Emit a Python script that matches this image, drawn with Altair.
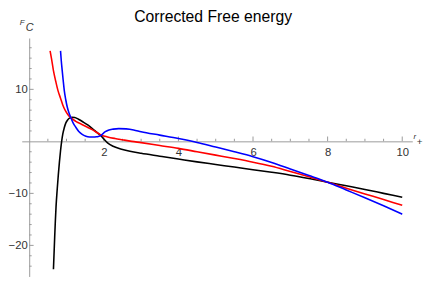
import altair as alt
import pandas as pd

# ---- data ----
black_r = [0.65, 0.68, 0.70, 0.72, 0.75, 0.78, 0.81, 0.84, 0.87, 0.90, 0.94, 0.98, 1.03, 1.09, 1.15,
           1.22, 1.32, 1.45, 1.58, 1.75, 1.85, 1.93, 2.0, 2.1, 2.25, 2.45, 2.7, 3.0, 3.5, 4.0, 4.5,
           5.0, 5.5, 6.0, 6.5, 7.0, 7.5, 8.0, 8.5, 9.0, 9.5, 10.0]
black_F = [-24.6, -19.0, -15.5, -12.5, -9.3, -6.5, -4.0, -1.8, 0.0, 1.4, 2.6, 3.5, 4.1, 4.5, 4.65,
           4.6, 4.25, 3.7, 3.1, 2.1, 1.5, 1.05, 0.45, -0.3, -0.95, -1.45, -1.9, -2.3, -2.85, -3.4, -3.95,
           -4.45, -4.95, -5.45, -5.95, -6.5, -7.15, -7.85, -8.55, -9.25, -10.0, -10.75]

red_r = [0.56, 0.6, 0.65, 0.71, 0.77, 0.84, 0.9, 0.97, 1.04, 1.12, 1.25, 1.4, 1.55, 1.7, 1.85,
         1.95, 2.1, 2.3, 2.5, 2.75, 3.0, 3.5, 4.0, 4.5, 5.0, 5.5, 6.0, 6.5, 7.0, 7.5, 8.0, 8.5,
         9.0, 9.5, 10.0]
red_F = [17.4, 15.8, 13.6, 11.6, 9.8, 8.3, 7.0, 5.9, 5.1, 4.5, 3.85, 3.3, 2.75, 2.2, 1.55,
         1.15, 0.85, 0.55, 0.3, 0.0, -0.25, -0.8, -1.35, -2.0, -2.65, -3.3, -4.0, -4.8, -5.8, -6.8,
         -7.85, -9.0, -10.1, -11.2, -12.3]

blue_r = [0.84, 0.86, 0.885, 0.91, 0.94, 0.98, 1.02, 1.07, 1.12, 1.18, 1.25, 1.33, 1.42, 1.52,
          1.62, 1.72, 1.8, 1.87, 1.93, 1.98, 2.04, 2.12, 2.25, 2.4, 2.6, 2.8, 3.0, 3.5, 4.0, 4.5,
          5.0, 5.5, 6.0, 6.5, 7.0, 7.5, 8.0, 8.5, 9.0, 9.5, 10.0]
blue_F = [17.4, 15.5, 13.6, 11.8, 9.8, 8.0, 6.6, 5.4, 4.5, 3.5, 2.7, 1.9, 1.35, 1.0,
          0.85, 0.82, 0.87, 1.0, 1.15, 1.5, 1.85, 2.15, 2.35, 2.45, 2.4, 2.2, 1.85, 1.2, 0.55, -0.2,
          -1.1, -2.0, -2.95, -4.05, -5.3, -6.55, -7.85, -9.35, -10.85, -12.4, -14.0]

x_major = [2, 4, 6, 8, 10]
x_minor = [0.5, 1, 1.5, 2.5, 3, 3.5, 4.5, 5, 5.5, 6.5, 7, 7.5, 8.5, 9, 9.5]
y_major = [-20, -10, 10]
y_minor = [-24, -22, -18, -16, -14, -12, -8, -6, -4, -2, 2, 4, 6, 8, 12, 14, 16, 18]

X_DOMAIN = [-0.2, 10.27]
Y_DOMAIN = [-25.98, 19.87]
W, H = 398, 243
y0_px = H * Y_DOMAIN[1] / (Y_DOMAIN[1] - Y_DOMAIN[0])
x0_px = W * (0 - X_DOMAIN[0]) / (X_DOMAIN[1] - X_DOMAIN[0])

AXIS_COLOR = "#9a9a9a"
LABEL_COLOR = "#333333"
FONT = "Liberation Sans"

xscale = alt.Scale(domain=X_DOMAIN, nice=False, zero=False)
yscale = alt.Scale(domain=Y_DOMAIN, nice=False, zero=False)

x_axis = alt.Axis(values=x_major, orient="bottom", offset=-(H - y0_px), ticks=False,
                  domainColor=AXIS_COLOR, domainWidth=1, labelFont=FONT, labelFontSize=11.5,
                  labelColor=LABEL_COLOR, labelPadding=5, title=None, grid=False,
                  labelFlush=False, labelOverlap=False)
y_axis = alt.Axis(values=y_major, orient="left", offset=-x0_px, ticks=False,
                  domainColor=AXIS_COLOR, domainWidth=1, labelFont=FONT, labelFontSize=11.5,
                  labelColor=LABEL_COLOR, labelPadding=2, title=None, grid=False,
                  labelFlush=False, labelOverlap=False)


def line_layer(rs, fs, color):
    df = pd.DataFrame({"r": rs, "F": fs})
    return alt.Chart(df).mark_line(color=color, strokeWidth=1.6, interpolate="monotone", clip=True).encode(
        x=alt.X("r:Q", scale=xscale, axis=x_axis),
        y=alt.Y("F:Q", scale=yscale, axis=y_axis),
    )


def xticks(vals, size):
    df = pd.DataFrame({"v": vals})
    return alt.Chart(df).mark_tick(orient="vertical", size=size, thickness=1, color=AXIS_COLOR,
                                   yOffset=-size / 2, opacity=1).encode(
        x=alt.X("v:Q", scale=xscale, axis=x_axis),
        y=alt.YDatum(0, scale=yscale, axis=y_axis, type="quantitative"),
    )


def yticks(vals, size):
    df = pd.DataFrame({"v": vals})
    return alt.Chart(df).mark_tick(orient="horizontal", size=size, thickness=1, color=AXIS_COLOR,
                                   xOffset=size / 2, opacity=1).encode(
        y=alt.Y("v:Q", scale=yscale, axis=y_axis),
        x=alt.XDatum(0, scale=xscale, axis=x_axis, type="quantitative"),
    )


def label(text, px, py, size, italic=True):
    return alt.Chart(pd.DataFrame({"t": [text]})).mark_text(
        font=FONT, fontSize=size, fontStyle="italic" if italic else "normal",
        color=LABEL_COLOR, align="center", baseline="middle").encode(
        text="t:N", x=alt.value(px), y=alt.value(py))


chart = alt.layer(
    xticks(x_major, 5), xticks(x_minor, 2.7),
    yticks(y_major, 4.5), yticks(y_minor, 2.5),
    line_layer(black_r, black_F, "#000000"),
    line_layer(red_r, red_F, "#ff0000"),
    line_layer(blue_r, blue_F, "#0000ff"),
    label("F", 0.5, -15.5, 8),
    label("C", 8, -10, 11),
    label("r", 400.5, 101, 8),
    label("+", 405.5, 106, 10, italic=False),
).properties(
    width=W, height=H,
    autosize=alt.AutoSizeParams(type="none"),
    padding={"left": 14, "top": 28, "right": 16, "bottom": 0},
    title=alt.Title("Corrected Free energy", font=FONT, fontSize=16, fontWeight="normal",
                    color="#000000", anchor="middle", frame="group", offset=-19,
                    baseline="alphabetic", dx=-4),
).configure_view(stroke=None)

chart.save("out.html", embed_options={"renderer": "svg", "actions": False})
